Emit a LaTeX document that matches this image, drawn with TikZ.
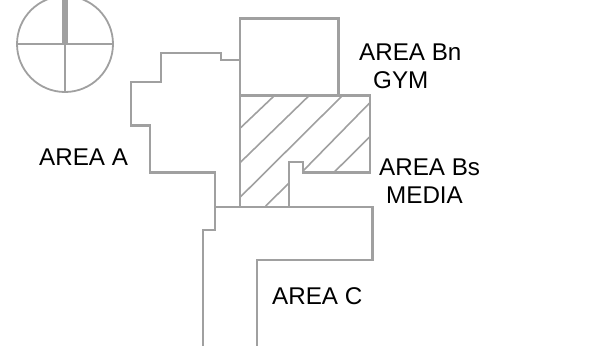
\documentclass[tikz,border=0pt]{standalone}
\usepackage{fontspec}
\setmainfont{Liberation Sans}
\tikzset{
  wall/.style={draw=linegray,line width=2.1bp,line join=miter},
  thinwall/.style={draw=linegray,line width=1.8bp},
  hatchline/.style={draw=linegray,line width=1.6bp},
  areatext/.style={anchor=base west,inner sep=0pt,text=black,font=\fontsize{24.2bp}{28bp}\selectfont},
}
\definecolor{linegray}{RGB}{160,160,160}
\begin{document}
\begin{tikzpicture}[x=1bp,y=-1bp]
\useasboundingbox (0,0) rectangle (604,347);
\clip (0,0) rectangle (604,347);
% compass
\draw[thinwall] (65,44) circle (48);
\draw[thinwall] (17,44) -- (113,44);
\draw[thinwall] (65,44) -- (65,92);
\draw[draw=linegray,line width=5.5bp] (65,0) -- (65,44);
% hatching
\draw[hatchline] (240,128.3) -- (274,96);
\draw[hatchline] (240,162.7) -- (308.7,96);
\draw[hatchline] (240,197.3) -- (342,96);
\draw[hatchline] (303.3,170.7) -- (369.3,103.3);
\draw[hatchline] (334,172.3) -- (369.3,137.3);
\draw[hatchline] (265.7,206) -- (288.7,183.3);
% area A
\draw[wall] (240,60) -- (221,60) -- (221,53) -- (161,53) -- (161,82) -- (131,82) -- (131,125.5) -- (150,125.5) -- (150,172.5) -- (215,172.5) -- (215,230) -- (203,230) -- (203,346);
% area C
\draw[wall] (215,207) -- (372.5,207) -- (372.5,260) -- (257,260) -- (257,346);
% area Bn
\draw[wall] (240,95.5) -- (240,18.5) -- (338.5,18.5) -- (338.5,95.5);
% area Bs
\draw[wall] (240,207) -- (240,95.5) -- (370,95.5) -- (370,172.5) -- (303,172.5) -- (303,162) -- (289,162) -- (289,207);
% labels
\node[areatext] (a) at (39,165) {AREA A};
\node[areatext] (bn) at (359,60) {AREA Bn};
\node[areatext] (gym) at (373,88) {GYM};
\node[areatext] (bs) at (379,175) {AREA Bs};
\node[areatext] (media) at (386,203) {MEDIA};
\node[areatext] (c) at (272,304) {AREA C};
\end{tikzpicture}
\end{document}
